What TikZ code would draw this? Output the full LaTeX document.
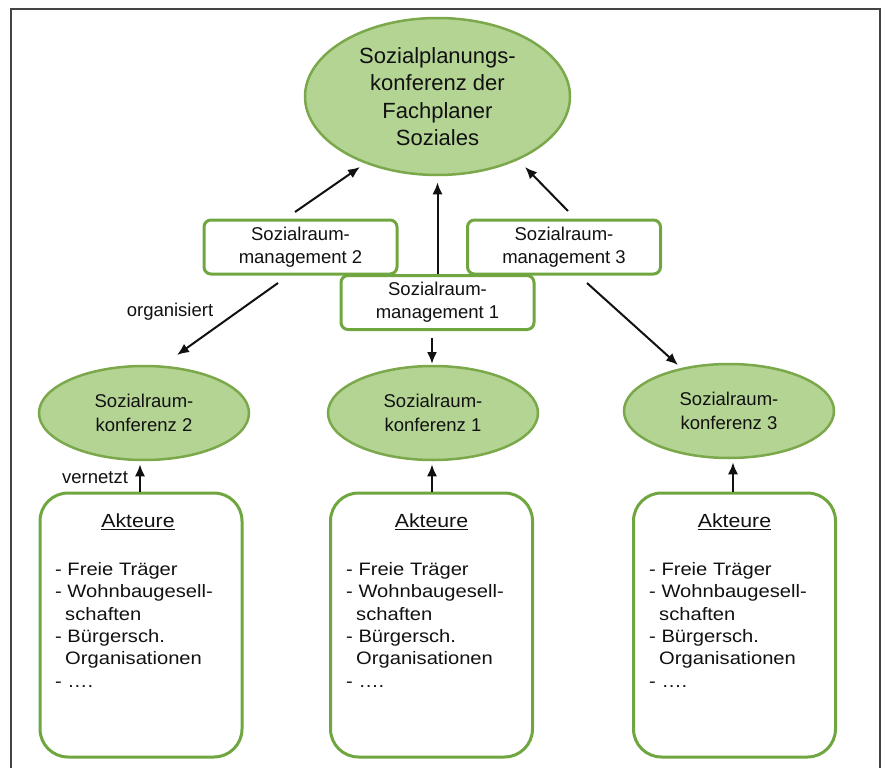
\documentclass[tikz,border=0pt]{standalone}
\usepackage{fontspec}
\setmainfont{Liberation Sans}
\newfontfamily\akfont[FakeStretch=1.12]{Liberation Sans}
\usetikzlibrary{shapes.geometric,arrows.meta}
\definecolor{elfill}{HTML}{B4D494}
\definecolor{eldraw}{HTML}{7AA84A}
\definecolor{boxdraw}{HTML}{70A640}
\definecolor{framegray}{HTML}{444444}
\definecolor{textc}{HTML}{111111}
\begin{document}
\begin{tikzpicture}[x=1pt,y=-1pt,
  elnode/.style={ellipse, draw=eldraw, fill=elfill, line width=2.5pt, inner sep=0pt, align=center, text=textc},
  mgmt/.style={draw=boxdraw, fill=white, rounded corners=7pt, line width=3pt, minimum width=193pt, minimum height=54pt, align=center, text=textc, font=\fontsize{18.5}{23}\selectfont, inner sep=0pt},
  konf/.style={elnode, minimum width=210pt, minimum height=94pt, font=\fontsize{18.5}{24}\selectfont},
  akbox/.style={draw=boxdraw, rounded corners=28pt, line width=3pt, minimum width=202pt, minimum height=264pt, inner sep=0pt},
  akhead/.style={text=textc, inner sep=0pt, font=\akfont\fontsize{19}{22}\selectfont},
  aklist/.style={text=textc, inner sep=0pt, anchor=north west, align=left, font=\akfont\fontsize{18}{22.4}\selectfont},
  arr/.style={line width=2pt, textc, -{Latex[length=12pt,width=10pt]}},
  lbl/.style={text=textc, font=\fontsize{18.5}{22}\selectfont, inner sep=0pt},
]
\useasboundingbox (0,0) rectangle (887,768);
\draw[framegray, line width=2pt] (11,768) -- (11,9) -- (880,9) -- (880,768);

% top ellipse
\node[elnode, minimum width=265pt, minimum height=157pt, font=\fontsize{22}{27.5}\selectfont] (top) at (437.5,96.5)
  {Sozialplanungs-\\konferenz der\\Fachplaner\\Soziales};

% management boxes
\node[mgmt] (m2) at (300.5,247) {Sozialraum-\\management 2};
\node[mgmt] (m3) at (564,247) {Sozialraum-\\management 3};
\node[mgmt] (m1) at (437.5,302.5) {Sozialraum-\\management 1};

% conference ellipses
\node[konf] (k2) at (144,413) {Sozialraum-\\konferenz 2};
\node[konf] (k1) at (433,413) {Sozialraum-\\konferenz 1};
\node[konf] (k3) at (729,411) {Sozialraum-\\konferenz 3};

% actor boxes
\node[akbox] (b2) at (141,625) {};
\node[akbox] (b1) at (431.5,625) {};
\node[akbox] (b3) at (734.5,625) {};

\node[akhead] (h2) at (138,522) {\underline{Akteure}};
\node[akhead] (h1) at (431.5,522) {\underline{Akteure}};
\node[akhead] (h3) at (734.5,522) {\underline{Akteure}};

\node[aklist] (l2) at (55,562) {- Freie Träger\\- Wohnbaugesell-\\\hspace*{10pt}schaften\\- Bürgersch.\\\hspace*{10pt}Organisationen\\- ….};
\node[aklist] (l1) at (346,562) {- Freie Träger\\- Wohnbaugesell-\\\hspace*{10pt}schaften\\- Bürgersch.\\\hspace*{10pt}Organisationen\\- ….};
\node[aklist] (l3) at (649,562) {- Freie Träger\\- Wohnbaugesell-\\\hspace*{10pt}schaften\\- Bürgersch.\\\hspace*{10pt}Organisationen\\- ….};

% labels
\node[lbl] (org) at (170,312) {organisiert};
\node[lbl] (ver) at (95,478) {vernetzt};

% connector end points
\coordinate (m2a) at (295,212);  \coordinate (topL) at (360,167);
\coordinate (m3a) at (568,211);  \coordinate (topR) at (525,167);
\coordinate (m2b) at (278,283);  \coordinate (k2t) at (177,355);
\coordinate (m1b) at (432,338);  \coordinate (k1t) at (432,364);
\coordinate (m3b) at (587,283);  \coordinate (k3t) at (678,365);

\draw[arr] (m2a) -- (topL);
\draw[arr] (m3a) -- (topR);
\draw[arr, shorten >=6pt] (m1.north -| top.south) -- (top.south);
\draw[arr] (m2b) -- (k2t);
\draw[arr] (m1b) -- (k1t);
\draw[arr] (m3b) -- (k3t);
\draw[arr, shorten >=3pt] (b2.north -| 140,0) -- (k2.south -| 140,0);
\draw[arr, shorten >=3pt] (b1.north -| 432,0) -- (k1.south -| 432,0);
\draw[arr, shorten >=3pt] (b3.north -| 733,0) -- (k3.south -| 733,0);
\end{tikzpicture}
\end{document}
